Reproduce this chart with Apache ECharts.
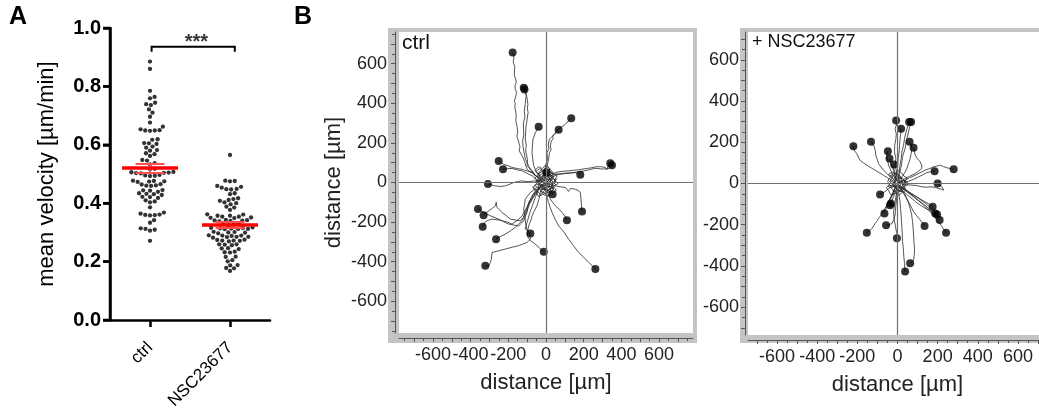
<!DOCTYPE html>
<html><head><meta charset="utf-8">
<script src="https://cdn.jsdelivr.net/npm/echarts@6.0.0/dist/echarts.min.js"></script>
<style>html,body{margin:0;padding:0;background:#fff}#c{width:1039px;height:408px}</style>
</head><body><div id="c"></div>
<script>
// ---------- Panel A data ----------
const categories = ['ctrl', 'NSC23677'];
const ctrlVelocity = [0.885,0.860,0.785,0.764,0.759,0.744,0.739,0.736,0.721,0.710,0.696,0.676,0.662,0.653,0.649,0.649,0.648,0.650,0.619,0.617,0.606,0.605,0.603,0.594,0.590,0.582,0.580,0.571,0.568,0.562,0.548,0.546,0.537,0.533,0.518,0.516,0.507,0.505,0.503,0.502,0.504,0.506,0.495,0.494,0.493,0.497,0.476,0.474,0.473,0.475,0.477,0.465,0.461,0.460,0.459,0.464,0.443,0.444,0.439,0.445,0.432,0.431,0.428,0.434,0.421,0.418,0.422,0.406,0.403,0.410,0.386,0.368,0.361,0.358,0.360,0.359,0.364,0.342,0.333,0.314,0.309,0.306,0.312,0.271];
const nscVelocity = [0.565,0.476,0.477,0.475,0.459,0.456,0.453,0.448,0.449,0.447,0.434,0.431,0.417,0.411,0.414,0.408,0.400,0.403,0.396,0.388,0.385,0.377,0.362,0.357,0.354,0.350,0.351,0.349,0.354,0.357,0.361,0.342,0.339,0.340,0.338,0.341,0.343,0.327,0.329,0.325,0.330,0.316,0.314,0.312,0.311,0.313,0.312,0.315,0.317,0.300,0.301,0.299,0.297,0.302,0.289,0.285,0.282,0.285,0.284,0.288,0.289,0.290,0.274,0.272,0.271,0.269,0.272,0.275,0.259,0.258,0.256,0.259,0.245,0.243,0.246,0.232,0.231,0.234,0.217,0.216,0.201,0.205,0.188,0.187,0.177,0.178,0.168];
const groupMeans = [0.520, 0.327];
const groupSems = [0.016, 0.010];
const sigBracketY = 0.936;
const sigLabel = '***';
const velocityTicks = [0, 0.2, 0.4, 0.6, 0.8, 1.0];

// ---------- Panel B data (cell tracks, µm; first point = end position) ----------
const distanceTickLabels = [-600, -400, -200, 0, 200, 400, 600];
const ctrlTracks = [
 [[-177,656],[-170,630],[-174,612],[-172,600],[-165,585],[-167,572],[-168,540],[-160,520],[-158,504],[-165,488],[-163,470],[-156,455],[-160,437],[-168,410],[-162,398],[-166,387],[-158,340],[-160,310],[-154,286],[-150,250],[-155,235],[-149,219],[-138,180],[-142,160],[-127,134],[-118,118],[-112,100],[-101,67],[-80,50],[-70,55],[-57,34],[-30,20],[-12,8]],
 [[-118,479],[-112,462],[-101,429],[-96,395],[-99,375],[-95,353],[-100,320],[-103,300],[-106,286],[-108,250],[-110,219],[-104,185],[-108,170],[-106,151],[-98,115],[-101,84],[-88,72],[-80,60],[-65,42],[-40,25],[-21,8]],
 [[-114,470],[-104,440],[-108,420],[-110,400],[-115,360],[-112,330],[-120,300],[-118,240],[-124,210],[-122,180],[-110,120],[-90,80],[-60,40],[-30,15]],
 [[134,324],[118,310],[103,294],[85,282],[67,269],[58,262],[50,250],[35,235],[38,220],[28,210],[23,185],[27,165],[18,150],[14,118],[5,80],[-4,50],[-8,25],[-12,8]],
 [[67,266],[55,255],[46,244],[30,230],[18,219],[12,190],[16,170],[5,151],[8,120],[-2,84],[-10,50],[-18,17]],
 [[-39,281],[-48,265],[-57,252],[-62,235],[-69,219],[-72,185],[-74,151],[-70,115],[-65,84],[-52,55],[-39,34],[-20,15]],
 [[-251,109],[-238,100],[-225,92],[-200,84],[-180,76],[-150,70],[-127,67],[-100,58],[-74,50],[-50,30],[-30,17]],
 [[-228,67],[-205,70],[-180,71],[-155,64],[-127,59],[-100,46],[-74,34],[-50,15],[-25,0]],
 [[-308,-8],[-290,-12],[-269,-17],[-240,-20],[-216,-17],[-190,-8],[-171,0],[-150,5],[-127,8],[-95,4],[-65,8],[-40,3],[-25,0]],
 [[341,97],[330,85],[322,65],[315,76],[290,80],[262,79],[240,74],[217,71],[195,68],[173,64],[145,62],[120,59],[95,57],[67,54],[45,48],[23,42],[5,30],[-4,25]],
 [[350,87],[335,70],[300,68],[260,72],[220,62],[180,55],[140,50],[100,45],[60,40],[20,20],[0,10]],
 [[182,39],[170,45],[156,50],[130,48],[103,47],[75,44],[50,42],[30,35],[14,25]],
 [[191,-146],[189,-125],[187,-101],[185,-75],[182,-50],[170,-40],[156,-34],[130,-30],[120,-45],[103,-25],[75,-22],[50,-17],[25,-10],[5,-3]],
 [[111,-190],[100,-170],[85,-151],[70,-135],[50,-118],[35,-100],[23,-84],[12,-60],[5,-34],[0,-15]],
 [[35,-59],[28,-45],[23,-34],[12,-20],[5,-8]],
 [[262,-437],[245,-420],[226,-403],[200,-378],[173,-353],[145,-318],[120,-286],[95,-250],[67,-219],[48,-185],[32,-151],[22,-125],[14,-101],[5,-75],[0,-50],[-7,-17]],
 [[-12,-350],[-30,-335],[-48,-319],[-65,-305],[-83,-294],[-95,-278],[-101,-261],[-96,-240],[-92,-219],[-80,-190],[-74,-168],[-60,-140],[-48,-118],[-38,-85],[-30,-50],[-18,-17]],
 [[-322,-420],[-304,-424],[-296,-405],[-290,-387],[-286,-353],[-250,-345],[-216,-336],[-180,-327],[-145,-319],[-120,-310],[-101,-303],[-83,-286],[-88,-252],[-110,-235],[-100,-200],[-85,-150],[-70,-110],[-55,-70],[-40,-40],[-15,-10]],
 [[-265,-286],[-240,-272],[-216,-261],[-190,-245],[-163,-227],[-145,-210],[-127,-193],[-115,-170],[-101,-151],[-96,-125],[-92,-101],[-75,-75],[-57,-50],[-40,-30],[-25,-17]],
 [[-83,-257],[-95,-248],[-101,-235],[-108,-210],[-110,-185],[-115,-160],[-118,-134],[-114,-110],[-110,-84],[-95,-65],[-83,-50],[-65,-38],[-48,-25]],
 [[-361,-134],[-346,-142],[-331,-151],[-312,-160],[-295,-168],[-270,-178],[-251,-185],[-225,-198],[-198,-210],[-170,-215],[-145,-219],[-130,-205],[-118,-193],[-108,-170],[-101,-143],[-88,-112],[-74,-84],[-55,-58],[-39,-34]],
 [[-331,-165],[-318,-155],[-304,-143],[-285,-130],[-269,-118],[-264,-100],[-260,-125],[-250,-135],[-233,-151],[-210,-168],[-189,-185],[-160,-190],[-136,-193],[-120,-175],[-105,-140],[-90,-100],[-70,-60],[-45,-30],[-20,-10]],
 [[-336,-224],[-330,-210],[-322,-198],[-305,-190],[-286,-185],[-260,-188],[-233,-193],[-205,-200],[-180,-210],[-150,-190],[-127,-168],[-110,-140],[-92,-109],[-70,-75],[-48,-42],[-25,-20]],
 [[2,52],[-10,40],[5,25],[-5,10],[10,-5],[-8,-15],[0,0]],
 [[-40,30],[-20,45],[10,35],[25,10],[15,-20],[-10,-25],[-30,-5],[-20,15]],
 [[20,60],[40,40],[30,10],[50,-10],[30,-30],[0,-40],[-20,-20]],
 [[-60,60],[-40,80],[-20,70],[0,90],[20,70],[10,40]],
 [[-70,-20],[-50,-40],[-30,-60],[-10,-50],[10,-70],[20,-40]],
 [[60,20],[40,0],[20,20],[0,-10],[-30,10],[-50,0]],
 [[0,0],[15,12],[-8,25],[20,35],[-5,48],[-25,30],[-10,10],[-35,-5],[-15,-20],[10,-8],[30,-25],[12,-40],[-12,-30],[-30,-45],[-5,-55],[20,-45],[35,-10],[50,15],[25,20],[5,5]],
 [[-20,5],[-45,15],[-30,40],[-55,55],[-35,70],[-10,60],[5,80],[25,65],[40,45],[60,35],[45,10],[65,-5],[40,-20],[55,-40],[30,-55],[10,-70],[-15,-60],[-40,-70],[-55,-45],[-70,-25],[-50,-10],[-25,-15],[-5,0]],
 [[10,20],[-15,30],[-5,55],[-30,60],[-45,35],[-60,20],[-40,5],[-60,-15],[-35,-30],[-20,-50],[0,-35],[25,-50],[40,-30],[30,-5],[50,5],[35,30],[15,40],[0,25]],
 [[5,-5],[25,5],[15,25],[35,40],[20,55],[-5,40],[-20,55],[-40,45],[-25,20],[-45,5],[-30,-15],[-10,-10],[-20,-35],[5,-30],[20,-20],[40,-35],[25,-10]],
 [[-15,-5],[-5,15],[-25,22],[-12,38],[8,30],[22,45],[30,22],[18,2],[38,-8],[22,-22],[5,-18],[-8,-38],[-28,-25],[-42,-38],[-38,-12],[-52,10],[-30,12]]
];
const ctrlTrackEndsWithDot = 24; // first 24 tracks carry an end-point dot
const nscTracks = [
 [[-7,306],[-3,290],[-12,266],[-6,240],[-8,218],[-14,185],[-15,153],[-8,120],[-12,89],[-4,55],[-7,24],[0,5]],
 [[58,298],[52,282],[47,266],[40,240],[35,218],[30,185],[22,153],[18,120],[13,89],[8,55],[2,24]],
 [[68,298],[62,280],[55,250],[45,210],[38,170],[25,130],[20,90],[10,50],[5,20]],
 [[18,266],[16,240],[13,218],[10,185],[8,153],[3,120],[2,89],[-2,55],[0,24]],
 [[-220,181],[-218,165],[-203,145],[-195,128],[-187,113],[-170,100],[-153,89],[-130,75],[-112,65],[-90,52],[-70,40],[-50,28],[-28,16],[-10,5]],
 [[-132,202],[-122,190],[-115,177],[-110,155],[-108,137],[-100,115],[-95,97],[-82,80],[-70,65],[-52,48],[-37,32],[-20,20],[-12,11]],
 [[-48,156],[-53,140],[-53,129],[-48,110],[-45,89],[-35,68],[-28,48],[-15,30],[-8,16]],
 [[-40,121],[-35,105],[-30,89],[-20,65],[-12,40],[-5,16]],
 [[-17,92],[-20,75],[-12,55],[-15,35],[-5,15]],
 [[60,202],[68,188],[72,169],[68,145],[63,121],[55,97],[47,73],[35,50],[22,32],[10,15],[2,5]],
 [[80,174],[85,155],[88,137],[100,120],[113,105],[120,90],[122,73],[105,60],[88,48],[60,35],[38,24],[20,12],[5,5]],
 [[280,69],[265,72],[247,76],[230,82],[213,89],[195,84],[180,81],[160,72],[138,65],[112,52],[88,40],[60,28],[38,16],[15,8],[5,3]],
 [[185,60],[165,57],[147,53],[125,42],[105,32],[80,20],[55,11],[30,5],[5,0]],
 [[200,0],[212,-8],[222,-16],[230,-32],[218,-28],[205,-24],[190,-20],[172,-16],[145,-18],[122,-16],[95,-10],[72,-8],[45,-6],[22,-5]],
 [[-87,-53],[-75,-45],[-62,-40],[-45,-24],[-28,-15],[-12,-8]],
 [[-33,-97],[-38,-80],[-28,-64],[-18,-45],[-15,-30],[-3,-8]],
 [[-37,-105],[-30,-90],[-22,-70],[-10,-40],[0,-15]],
 [[-65,-145],[-60,-130],[-53,-113],[-45,-92],[-37,-73],[-28,-55],[-20,-40],[-12,-25],[-7,-11]],
 [[-153,-239],[-140,-230],[-128,-218],[-118,-205],[-112,-194],[-100,-180],[-95,-169],[-85,-158],[-78,-145],[-65,-125],[-53,-105],[-40,-80],[-28,-56],[-18,-35],[-8,-16]],
 [[-57,-202],[-42,-200],[-28,-194],[-18,-175],[-12,-153],[-10,-130],[-8,-105],[-5,-80],[-3,-56],[-2,-16]],
 [[-3,-266],[-2,-245],[-7,-226],[-10,-205],[-15,-185],[-18,-160],[-20,-137],[-15,-112],[-12,-89],[-8,-65],[-3,-40],[0,-15]],
 [[63,-387],[72,-380],[80,-371],[84,-345],[85,-315],[82,-285],[80,-250],[78,-218],[75,-185],[70,-150],[63,-121],[55,-95],[47,-73],[35,-50],[22,-32],[5,-8]],
 [[38,-427],[36,-405],[35,-387],[32,-360],[30,-331],[28,-305],[25,-282],[24,-250],[22,-218],[20,-185],[18,-153],[15,-120],[13,-89],[8,-60],[5,-32],[2,-10]],
 [[135,-206],[125,-192],[113,-177],[96,-157],[80,-137],[68,-113],[55,-89],[42,-68],[30,-48],[18,-30],[8,-16]],
 [[175,-113],[158,-100],[138,-89],[118,-78],[97,-65],[75,-52],[55,-40],[35,-28],[13,-16]],
 [[188,-145],[172,-138],[155,-129],[135,-118],[113,-105],[92,-90],[72,-73],[50,-56],[30,-40],[15,-28],[5,-16]],
 [[197,-150],[180,-140],[160,-125],[130,-100],[100,-80],[60,-50],[30,-25],[10,-10]],
 [[210,-177],[205,-160],[197,-145],[185,-132],[172,-121],[150,-105],[130,-89],[105,-72],[80,-56],[55,-40],[30,-27],[10,-12]],
 [[242,-239],[232,-225],[222,-210],[210,-193],[197,-177],[180,-157],[163,-137],[142,-117],[122,-97],[97,-76],[72,-56],[45,-38],[22,-24],[5,-8]],
 [[-30,30],[-10,50],[15,35],[25,10],[10,-15],[-15,-20],[-25,0],[-5,15],[10,0]],
 [[40,-20],[20,-40],[0,-30],[-20,-10],[-10,20],[20,25]],
 [[-50,10],[-30,-20],[0,-5],[30,15],[50,5],[30,-15]],
 [[0,0],[12,10],[-6,20],[15,28],[-4,38],[-20,24],[-8,8],[-28,-4],[-12,-16],[8,-6],[24,-20],[10,-32],[-10,-24],[-24,-36],[-4,-44],[16,-36],[28,-8],[40,12],[20,16],[4,4]],
 [[-16,4],[-36,12],[-24,32],[-44,44],[-28,56],[-8,48],[4,64],[20,52],[32,36],[48,28],[36,8],[52,-4],[32,-16],[44,-32],[24,-44],[8,-56],[-12,-48],[-32,-56],[-44,-36],[-56,-20],[-40,-8],[-20,-12],[-4,0]],
 [[8,16],[-12,24],[-4,44],[-24,48],[-36,28],[-48,16],[-32,4],[-48,-12],[-28,-24],[-16,-40],[0,-28],[20,-40],[32,-24],[24,-4],[40,4],[28,24],[12,32],[0,20]]
];
const nscTrackEndsWithDot = 29;

// ---------- helpers ----------
const FONT = "'Liberation Sans', Arial, sans-serif";
function range(a, b, s) { const r = []; for (let v = a; v <= b + 1e-9; v += s) r.push(v); return r; }

// beeswarm layout computed from the values (pixel scales of panel A grid)
function swarm(vals, idx, pxPerUnitY, pxPerCat, d) {
  const pts = vals.map(v => ({ v, y: v * pxPerUnitY, x: 0 })).sort((a, b) => a.y - b.y);
  const placed = [];
  for (const p of pts) {
    const near = placed.filter(q => Math.abs(q.y - p.y) < d);
    const cands = [0];
    near.forEach(q => { const dx = Math.sqrt(d * d - (q.y - p.y) ** 2); cands.push(q.x + dx, q.x - dx); });
    cands.sort((a, b) => Math.abs(a) - Math.abs(b));
    for (const c of cands) {
      if (near.every(q => (q.x - c) ** 2 + (q.y - p.y) ** 2 >= d * d - 1e-6)) { p.x = c; break; }
    }
    placed.push(p);
  }
  return placed.map(p => [idx + p.x / pxPerCat, p.v]);
}

const A_H = 292, A_W = 160, A_PX_PER_CAT = A_W / 2;
const swarmData = [].concat(
  swarm(ctrlVelocity, 0, A_H, A_PX_PER_CAT, 4.8),
  swarm(nscVelocity, 1, A_H, A_PX_PER_CAT, 4.8)
);

const meanSegs = [], semSegs = [];
groupMeans.forEach((m, i) => {
  const s = groupSems[i];
  meanSegs.push({ coords: [[i - 0.35, m], [i + 0.35, m]] });
  semSegs.push({ coords: [[i, m - s], [i, m + s]] });
  semSegs.push({ coords: [[i - 0.18, m + s], [i + 0.18, m + s]] });
  semSegs.push({ coords: [[i - 0.18, m - s], [i + 0.18, m - s]] });
});

function bAxes(grid, min, max, isX, offset, margin, name, nameGap) {
  const main = {
    type: 'value', gridIndex: grid, min, max, offset, z: 5,
    axisLine: { show: true, onZero: false, lineStyle: { color: '#555', width: 1 } },
    axisTick: { show: true, inside: false, length: 4, customValues: range(-800, 800, 100).filter(v => v >= min && v <= max), lineStyle: { color: '#555', width: 1 } },
    axisLabel: { customValues: distanceTickLabels, fontSize: 18, color: '#222', fontFamily: FONT, margin },
    splitLine: { show: false }
  };
  if (name) {
    Object.assign(main, { name, nameLocation: 'middle', nameGap, nameTextStyle: { fontSize: 22, color: '#222', fontFamily: FONT } });
    if (!isX) main.nameRotate = 90;
  }
  const minor = {
    type: 'value', gridIndex: grid, min, max, offset, z: 5,
    axisLine: { show: false, onZero: false },
    axisTick: { show: true, inside: false, length: 3, customValues: range(-800, 800, 50).filter(v => v >= min && v <= max), lineStyle: { color: '#555', width: 1 } },
    axisLabel: { show: false }, splitLine: { show: false }
  };
  if (isX) { main.position = 'bottom'; minor.position = 'bottom'; } else { main.position = 'left'; minor.position = 'left'; }
  return [main, minor];
}
const hidden = (grid) => ({ type: 'value', gridIndex: grid, show: false, min: 0, max: 1, axisLine: { onZero: false } });

const [bLx, bLxm] = bAxes(2, -780, 780, true, 5, 8, 'distance [µm]', 34);
const [bLy, bLym] = bAxes(2, -760, 760, false, 4, 8, 'distance [µm]', 50);
const [bRx, bRxm] = bAxes(4, -745, 745, true, 5, 8, 'distance [µm]', 34);
const [bRy, bRym] = bAxes(4, -735, 735, false, 3, 6, null, 0);

const zeroLines = { silent: true, symbol: 'none', label: { show: false }, lineStyle: { color: '#707070', width: 1.2, type: 'solid' }, data: [{ xAxis: 0 }, { yAxis: 0 }] };
const G = { outerBoundsMode: 'none', containLabel: false };

const option = {
  animation: false,
  backgroundColor: '#ffffff',
  textStyle: { fontFamily: FONT },
  title: [
    { text: 'A', left: 9, top: 5, padding: 0, textStyle: { fontSize: 25, fontWeight: 'bold', color: '#000', fontFamily: FONT } },
    { text: 'B', left: 294, top: 5, padding: 0, textStyle: { fontSize: 25, fontWeight: 'bold', color: '#000', fontFamily: FONT } },
    { text: 'ctrl', left: 402, top: 33, padding: 0, textStyle: { fontSize: 21, fontWeight: 'normal', color: '#111', fontFamily: FONT } },
    { text: '+ NSC23677', left: 752, top: 33, padding: 0, textStyle: { fontSize: 18, fontWeight: 'normal', color: '#111', fontFamily: FONT } }
  ],
  grid: [
    Object.assign({ left: 110, top: 28, width: A_W, height: A_H }, G),
    Object.assign({ left: 388, top: 28, width: 309, height: 315, show: true, backgroundColor: '#c4c4c4', borderWidth: 0, z: 0 }, G),
    Object.assign({ left: 399, top: 32, width: 294, height: 301, show: true, backgroundColor: '#ffffff', borderWidth: 0, z: 1 }, G),
    Object.assign({ left: 740, top: 28, width: 320, height: 315, show: true, backgroundColor: '#c4c4c4', borderWidth: 0, z: 0 }, G),
    Object.assign({ left: 748, top: 32, width: 299, height: 303, show: true, backgroundColor: '#ffffff', borderWidth: 0, z: 1 }, G),
    Object.assign({ left: 110, top: 28, width: A_W, height: A_H }, G)  // overlay grid for the swarm (value x scale)
  ],
  xAxis: [
    { type: 'category', gridIndex: 0, data: categories, z: 6,
      axisLine: { show: true, onZero: false, lineStyle: { color: '#000', width: 2.5 } },
      axisTick: { show: true, alignWithLabel: true, length: 7, lineStyle: { color: '#000', width: 2.5 } },
      axisLabel: { rotate: 45, fontSize: 17, color: '#000', margin: 25, fontFamily: FONT } },
    { type: 'value', gridIndex: 5, min: -0.5, max: 1.5, show: false, axisLine: { onZero: false } },
    hidden(1), bLx, bLxm, hidden(3), bRx, bRxm
  ],
  yAxis: [
    { type: 'value', gridIndex: 0, min: 0, max: 1, interval: 0.2, position: 'left', z: 6,
      axisLine: { show: true, onZero: false, lineStyle: { color: '#000', width: 2.5 } },
      axisTick: { show: true, inside: false, length: 7, lineStyle: { color: '#000', width: 2.5 } },
      axisLabel: { fontSize: 20, fontWeight: 'bold', color: '#000', margin: 9, fontFamily: FONT, formatter: v => v.toFixed(1) },
      splitLine: { show: false },
      name: 'mean velocity [µm/min]', nameLocation: 'middle', nameRotate: 90, nameGap: 52,
      nameTextStyle: { fontSize: 22, color: '#000', fontFamily: FONT } },
    hidden(1), bLy, bLym, hidden(3), bRy, bRym,
    { type: 'value', gridIndex: 5, min: 0, max: 1, show: false, axisLine: { onZero: false } }
  ],
  series: [
    { type: 'scatter', xAxisIndex: 1, yAxisIndex: 7, data: swarmData, symbolSize: 4.3, itemStyle: { color: '#000' }, z: 3 },
    { type: 'lines', coordinateSystem: 'cartesian2d', xAxisIndex: 1, yAxisIndex: 7, data: semSegs, lineStyle: { color: '#ff5050', width: 2, opacity: 1 }, z: 4 },
    { type: 'lines', coordinateSystem: 'cartesian2d', xAxisIndex: 1, yAxisIndex: 7, data: meanSegs, lineStyle: { color: '#ff0000', width: 3.5, opacity: 1 }, z: 5 },
    { type: 'lines', coordinateSystem: 'cartesian2d', polyline: true, xAxisIndex: 1, yAxisIndex: 7,
      data: [{ coords: [[0.02, sigBracketY - 0.017], [0.02, sigBracketY], [1.06, sigBracketY], [1.06, sigBracketY - 0.017]] }],
      lineStyle: { color: '#000', width: 2, opacity: 1 } },
    { type: 'scatter', xAxisIndex: 1, yAxisIndex: 7, data: [[0.58, sigBracketY]], symbolSize: 0,
      label: { show: true, position: 'inside', offset: [0, -4], formatter: sigLabel, fontSize: 20, fontWeight: 'bold', color: '#000', fontFamily: FONT } },
    { type: 'lines', coordinateSystem: 'cartesian2d', polyline: true, xAxisIndex: 3, yAxisIndex: 2,
      data: ctrlTracks.map(t => ({ coords: t })), lineStyle: { color: '#2a2a2a', width: 0.8, opacity: 1 }, z: 3, markLine: zeroLines },
    { type: 'scatter', xAxisIndex: 3, yAxisIndex: 2, data: ctrlTracks.slice(0, ctrlTrackEndsWithDot).map(t => t[0]), symbolSize: 8, itemStyle: { color: '#000' }, z: 4 },
    { type: 'lines', coordinateSystem: 'cartesian2d', polyline: true, xAxisIndex: 6, yAxisIndex: 5,
      data: nscTracks.map(t => ({ coords: t })), lineStyle: { color: '#2a2a2a', width: 0.8, opacity: 1 }, z: 3, markLine: zeroLines },
    { type: 'scatter', xAxisIndex: 6, yAxisIndex: 5, data: nscTracks.slice(0, nscTrackEndsWithDot).map(t => t[0]), symbolSize: 8, itemStyle: { color: '#000' }, z: 4 }
  ]
};
const chart = echarts.init(document.getElementById('c'), null, { renderer: 'canvas' });
chart.setOption(option);

// Panel A value-axis line and ticks, positioned through the chart's own scales
const axX = chart.convertToPixel({ xAxisIndex: 1 }, -0.5);
const yTop = chart.convertToPixel({ yAxisIndex: 7 }, 1);
const yBot = chart.convertToPixel({ yAxisIndex: 7 }, 0);
const axisGraphics = [{ type: 'line', z: 100, shape: { x1: axX, y1: yTop - 1, x2: axX, y2: yBot + 1 }, style: { stroke: '#000', lineWidth: 2.5 } }]
  .concat(velocityTicks.map(t => {
    const y = chart.convertToPixel({ yAxisIndex: 7 }, t);
    return { type: 'line', z: 100, shape: { x1: axX - 7, y1: y, x2: axX, y2: y }, style: { stroke: '#000', lineWidth: 2.5 } };
  }));
chart.setOption({ graphic: axisGraphics });
</script></body></html>
